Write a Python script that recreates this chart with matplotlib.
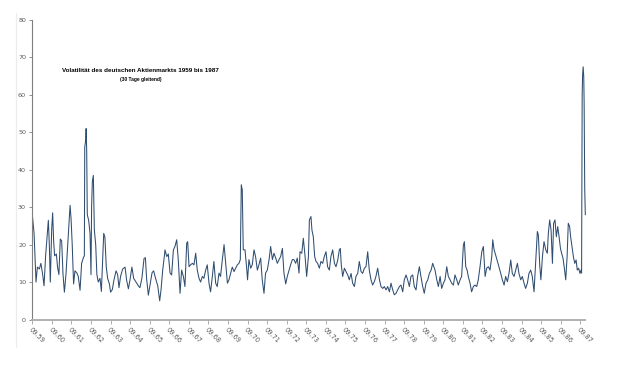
import numpy as np
import matplotlib.pyplot as plt
from matplotlib.lines import Line2D

# 30-day rolling volatility; t = years since Sep 1959
t = [0.00, 0.09, 0.19, 0.26, 0.36, 0.44, 0.53, 0.60, 0.68, 0.77, 0.82, 0.87, 0.92, 0.99,
     1.04, 1.09, 1.14, 1.23, 1.29, 1.36, 1.43, 1.50, 1.57, 1.64, 1.72, 1.81, 1.87, 1.93,
     1.98, 2.04, 2.11, 2.18, 2.27, 2.35, 2.44, 2.52, 2.61, 2.66, 2.68, 2.73, 2.75, 2.78,
     2.81, 2.88, 2.95, 3.00, 3.03, 3.07, 3.12, 3.17, 3.24, 3.30, 3.37, 3.46, 3.53, 3.59,
     3.65, 3.71, 3.78, 3.85, 3.94, 4.00, 4.09, 4.17, 4.28, 4.36, 4.43, 4.51, 4.62, 4.74,
     4.82, 4.91, 4.99, 5.09, 5.18, 5.30, 5.42, 5.50, 5.60, 5.71, 5.78, 5.84, 5.93, 6.01,
     6.12, 6.20, 6.30, 6.41, 6.51, 6.58, 6.66, 6.75,
     6.78, 6.87, 6.95, 7.04, 7.12, 7.21, 7.29, 7.38, 7.46, 7.55, 7.63, 7.72, 7.80, 7.89,
     7.94, 8.01, 8.09, 8.18, 8.26, 8.35, 8.43, 8.52, 8.60, 8.69, 8.77, 8.86, 8.94, 9.03,
     9.11, 9.20, 9.28, 9.37, 9.45, 9.54, 9.62, 9.71, 9.80, 9.88, 9.97, 10.05, 10.14, 10.22,
     10.31, 10.39, 10.48, 10.56, 10.63, 10.68, 10.73, 10.78, 10.87, 10.95, 11.00, 11.07,
     11.16, 11.24, 11.33, 11.41, 11.50, 11.58, 11.67, 11.75, 11.84, 11.92, 12.01, 12.10,
     12.18, 12.27, 12.35, 12.44, 12.52, 12.61, 12.69, 12.78, 12.86, 12.95, 13.03, 13.12,
     13.20, 13.29, 13.37, 13.46, 13.54, 13.63,
     13.68, 13.77, 13.85, 13.94, 14.02, 14.11, 14.16, 14.24, 14.29, 14.36, 14.43, 14.50,
     14.58, 14.67, 14.75, 14.84, 14.92, 15.01, 15.09, 15.18, 15.26, 15.35, 15.44, 15.52,
     15.61, 15.69, 15.74, 15.79, 15.86, 15.95, 16.03, 16.12, 16.20, 16.29, 16.37, 16.46,
     16.54, 16.63, 16.71, 16.80, 16.88, 16.97, 17.05, 17.14, 17.22, 17.31, 17.39, 17.48,
     17.56, 17.65, 17.74, 17.82, 17.91, 17.99, 18.08, 18.16, 18.25, 18.33, 18.42, 18.50,
     18.59, 18.67, 18.76, 18.84, 18.93, 19.01, 19.10, 19.18, 19.27, 19.35, 19.44, 19.52,
     19.61, 19.69, 19.78, 19.86, 19.95, 20.03, 20.12, 20.21, 20.29, 20.38, 20.46,
     20.58, 20.67, 20.75, 20.84, 20.92, 21.01, 21.09, 21.18, 21.26, 21.35, 21.43, 21.52,
     21.60, 21.69, 21.77, 21.86, 21.94, 22.03, 22.08, 22.15, 22.22, 22.28, 22.37, 22.45,
     22.54, 22.62, 22.71, 22.79, 22.88, 22.97, 23.05, 23.14, 23.22, 23.31, 23.39, 23.48,
     23.53, 23.60, 23.68, 23.77, 23.85, 23.94, 24.02, 24.11, 24.19, 24.28, 24.36, 24.45,
     24.53, 24.62, 24.70, 24.79, 24.87, 24.96, 25.04, 25.13, 25.21, 25.30, 25.38, 25.47,
     25.55, 25.64, 25.72, 25.81, 25.86, 25.93, 25.99, 26.07, 26.15, 26.24, 26.32, 26.37,
     26.44, 26.51, 26.58, 26.64, 26.71, 26.78, 26.85, 26.92, 26.99, 27.05, 27.12, 27.19,
     27.26, 27.33, 27.39, 27.46, 27.51, 27.58, 27.65, 27.72, 27.79, 27.85, 27.92, 27.99,
     28.04, 28.07, 28.10, 28.12, 28.15, 28.18, 28.20, 28.23, 28.26]

vola = [28.0, 23.0, 10.0, 14.0, 13.5, 15.0, 12.0, 9.0, 17.0, 23.0, 26.5, 20.0, 10.0, 24.0,
        28.5, 21.0, 17.0, 17.5, 14.0, 12.0, 21.5, 21.0, 12.0, 7.3, 12.0, 20.0, 25.0, 30.5,
        27.0, 20.0, 9.5, 13.0, 12.5, 11.5, 7.8, 15.0, 16.5, 17.0, 46.0, 48.0, 51.0, 45.0,
        28.0, 26.5, 23.0, 12.0, 30.0, 37.0, 38.5, 24.0, 20.0, 12.0, 10.0, 11.0, 7.5, 15.0,
        23.0, 22.0, 14.0, 11.0, 9.5, 7.3, 8.0, 10.5, 13.0, 12.0, 8.5, 11.5, 13.5, 14.0,
        10.5, 8.2, 10.5, 14.0, 11.0, 10.0, 9.0, 8.5, 11.0, 16.3, 16.5, 11.0, 6.5, 9.0,
        12.5, 13.0, 11.0, 9.0, 5.0, 8.0, 13.0, 17.0,
        18.6, 16.8, 17.5, 12.4, 11.9, 18.6, 19.5, 21.3, 15.9, 7.0, 13.2, 11.5, 8.8, 20.4,
        20.8, 14.1, 14.6, 15.0, 14.6, 17.7, 13.2, 11.0, 10.0, 11.5, 11.0, 13.2, 14.6, 9.7,
        7.4, 11.5, 15.5, 9.7, 8.8, 12.4, 11.5, 15.9, 20.0, 15.0, 9.7, 10.6, 12.4, 14.0,
        12.8, 13.7, 14.6, 15.0, 16.0, 36.0, 34.6, 18.6, 18.6, 14.0, 10.6, 16.0,
        13.7, 14.6, 18.6, 16.8, 13.2, 14.6, 16.4, 10.6, 7.0, 12.4, 13.2, 16.0,
        19.5, 16.0, 17.7, 16.4, 15.0, 16.0, 16.8, 19.0, 12.4, 9.5, 11.5, 13.2,
        14.6, 16.0, 16.0, 15.0, 16.4, 12.4,
        18.1, 17.7, 21.7, 16.8, 11.5, 16.8, 26.6, 27.5, 23.9, 22.1, 16.8, 15.5,
        15.0, 13.7, 15.5, 15.0, 16.8, 18.1, 14.1, 13.2, 16.8, 18.6, 15.0, 14.1,
        15.9, 18.6, 19.0, 14.6, 11.5, 13.7, 12.8, 11.9, 10.6, 12.3, 9.7, 8.8,
        11.5, 12.3, 15.5, 12.8, 12.3, 13.7, 14.1, 18.1, 13.2, 10.6, 9.2, 10.1,
        11.5, 13.7, 10.6, 8.8, 8.3, 8.8, 7.9, 8.8, 7.4, 9.7, 7.9, 6.6,
        7.0, 7.9, 8.8, 9.2, 7.4, 10.6, 11.9, 10.6, 8.8, 11.5, 11.9, 8.8,
        7.9, 11.5, 14.1, 11.5, 8.8, 7.0, 9.7, 10.6, 12.3, 13.2, 15.0,
        13.2, 10.6, 8.8, 11.5, 8.3, 9.7, 10.6, 14.1, 11.5, 10.6, 9.7, 9.2,
        11.9, 10.6, 9.2, 10.6, 11.5, 19.9, 20.8, 14.1, 13.2, 11.5, 9.7, 7.4,
        8.8, 9.2, 8.8, 10.6, 14.1, 18.1, 19.5, 11.5, 13.7, 14.1, 13.2, 16.8,
        21.3, 18.6, 17.2, 15.5, 14.1, 12.3, 10.6, 9.2, 11.5, 10.1, 12.3, 15.9,
        12.3, 11.5, 13.2, 15.0, 12.3, 10.6, 11.5, 9.7, 8.3, 9.7, 12.3, 13.2,
        11.5, 7.4, 15.0, 23.5, 22.6, 14.6, 10.6, 16.8, 20.8, 18.6, 17.7, 23.0,
        26.6, 23.9, 15.0, 25.7, 26.6, 22.1, 24.8, 22.1, 19.0, 17.7, 16.4, 13.7,
        10.6, 16.8, 25.7, 24.8, 22.1, 19.5, 16.8, 15.0, 15.9, 13.2, 13.7, 12.3,
        13.2, 12.4, 60.0, 65.0, 67.5, 65.0, 58.0, 35.0, 28.0]

tick_labels = ['09.%02d' % (59 + i) for i in range(29)]
title = 'Volatilität des deutschen Aktienmarkts 1959 bis 1987'
subtitle = '(30 Tage gleitend)'

fig = plt.figure(figsize=(6.22, 3.68), dpi=100)
ax = fig.add_axes([32.3 / 622, 48.5 / 368, 553.2 / 622, 299.5 / 368])

ax.plot(t, vola, color='#2f4d70', lw=0.75)

ax.set_xlim(0, 28.27)
ax.set_ylim(0, 80)
ax.set_yticks(np.arange(0, 81, 10))
ax.set_xticks(np.arange(len(tick_labels)))
ax.set_xticklabels(tick_labels, rotation=-45, ha='left', va='top',
                   rotation_mode='anchor')

for s in ['top', 'right']:
    ax.spines[s].set_visible(False)
ax.spines['left'].set_color('#7f7f7f')
ax.spines['left'].set_linewidth(0.8)
ax.spines['bottom'].set_color('#b0b0b0')
ax.spines['bottom'].set_linewidth(1.4)
ax.tick_params(axis='y', length=2.5, width=0.6, color='#7f7f7f', labelsize=4.6,
               labelcolor='#595959', pad=2)
ax.tick_params(axis='x', length=3, width=0.6, color='#a0a0a0', labelsize=4.8,
               labelcolor='#595959', pad=2)

fig.text(140 / 622, 1 - 70 / 368, title, ha='center', va='center',
         fontsize=4.5, fontweight='bold', family='Liberation Sans')
fig.text(141 / 622, 1 - 80 / 368, subtitle, ha='center', va='center',
         fontsize=3.5, fontweight='bold', family='Liberation Sans')

# faint chart-area border on the left
fig.add_artist(Line2D([16 / 622, 16 / 622], [1 - 347 / 368, 1 - 13 / 368],
                      transform=fig.transFigure, color='#ececec', lw=0.8))

fig.savefig('out.png', dpi=100)
